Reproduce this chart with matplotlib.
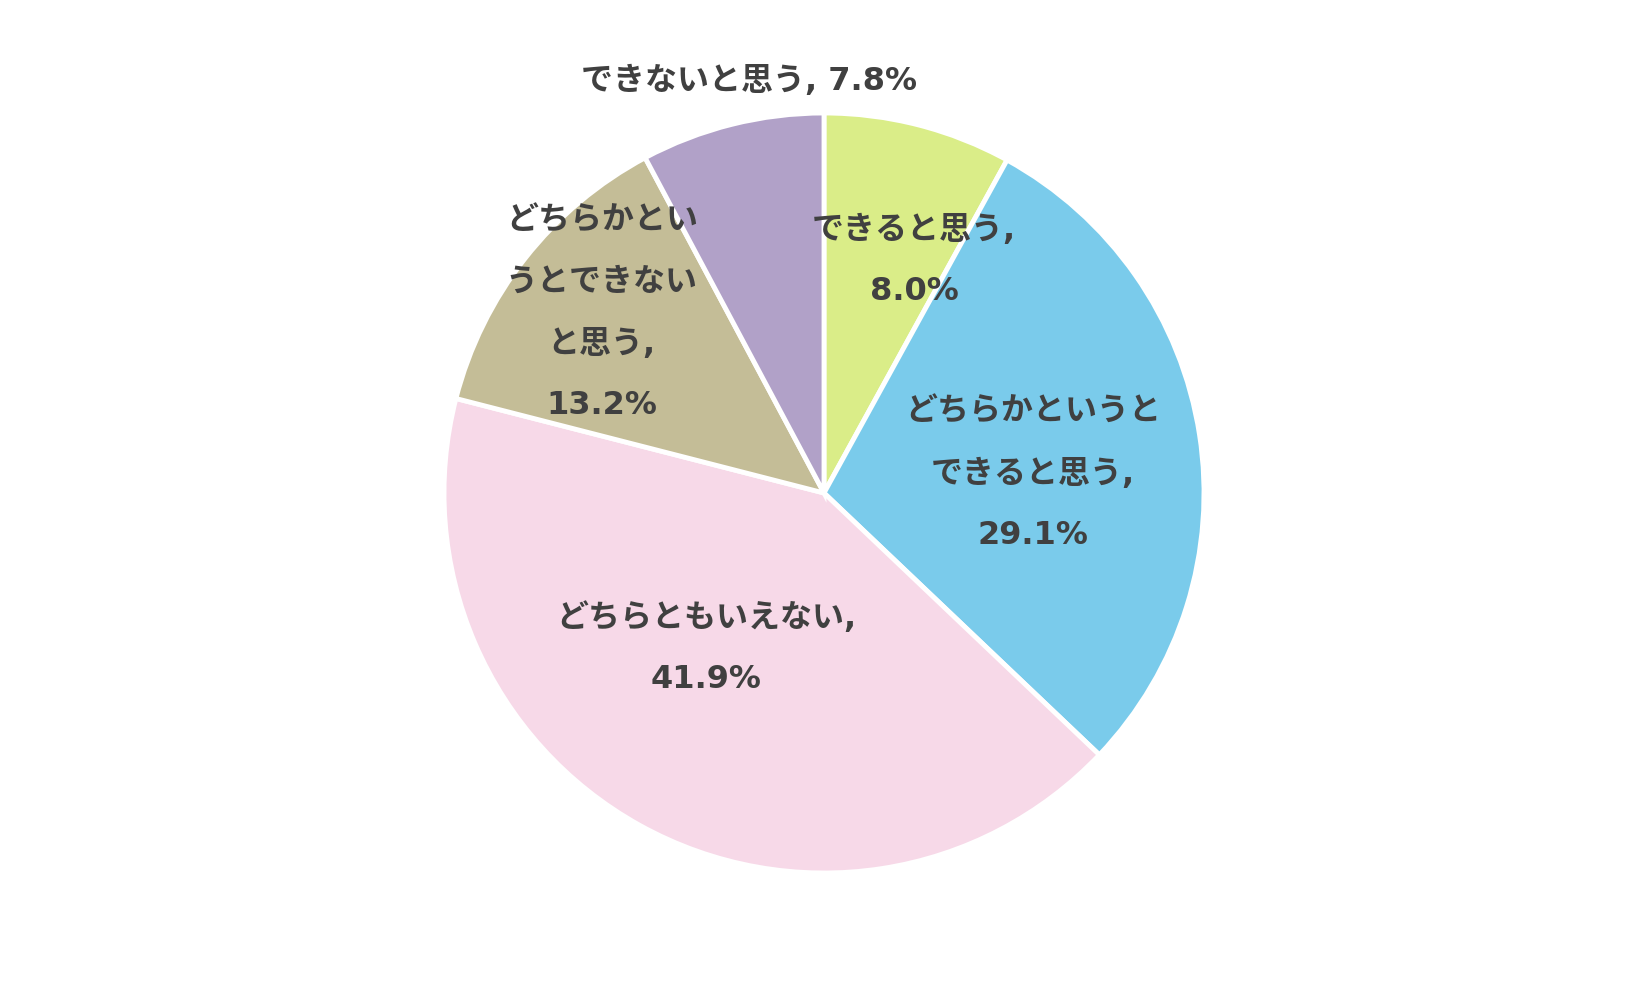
import numpy as np
import matplotlib
matplotlib.use("Agg")
import matplotlib.pyplot as plt

# answers, clockwise from 12 o'clock
labels = ["できると思う,\n8.0%",
          "どちらかというと\nできると思う,\n29.1%",
          "どちらともいえない,\n41.9%",
          "どちらかとい\nうとできない\nと思う,\n13.2%",
          "できないと思う, 7.8%"]
shares = [8.0, 29.1, 41.9, 13.2, 7.8]
colors = ["#DAED88", "#7ACBEB", "#F7D9E8", "#C4BD97", "#B1A1C8"]

# where each label sits: distance from centre (in radii) and angle shift
label_dist = [0.655, 0.552, 0.514, 0.752, 1.102]
label_shift = [-6.8, -3.6, -8.25, -0.8, -3.7]

fig = plt.figure(figsize=(16.5, 9.9), dpi=100)
ax = fig.add_axes([(824 - 380) / 1650, (990 - 493 - 380) / 990,
                   760 / 1650, 760 / 990])

wedges, _ = ax.pie(shares, colors=colors, startangle=90, counterclock=False,
                   wedgeprops=dict(edgecolor="white", linewidth=3.5))
ax.set_xlim(-1, 1)
ax.set_ylim(-1, 1)
ax.set_aspect("equal")
ax.axis("off")

for w, lab, d, s in zip(wedges, labels, label_dist, label_shift):
    ang = np.deg2rad((w.theta1 + w.theta2) / 2 + s)
    ax.text(d * np.cos(ang), d * np.sin(ang), lab, ha="center", va="center",
            fontsize=23, fontweight="bold", color="#404040", linespacing=2.28,
            family=["DejaVu Sans", "Noto Sans CJK JP"], clip_on=False)

fig.savefig("out.png", dpi=100)
